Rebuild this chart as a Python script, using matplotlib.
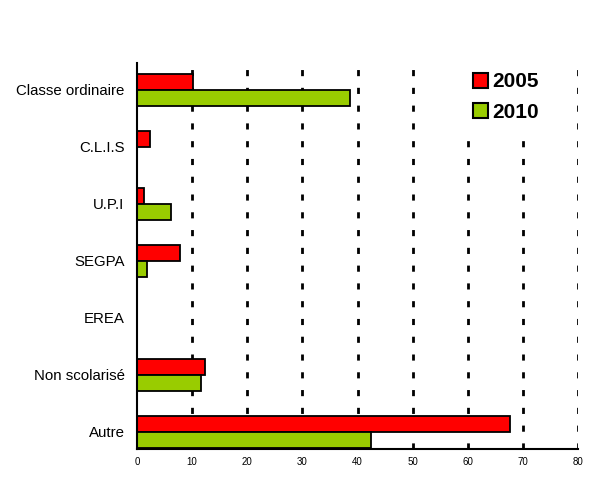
import matplotlib.pyplot as plt
import numpy as np

# categories from top to bottom
categories = ['Classe ordinaire', 'C.L.I.S', 'U.P.I', 'SEGPA', 'EREA',
              'Non scolarisé', 'Autre']
values_2005 = [10.2, 2.4, 1.3, 7.8, 0, 12.3, 67.6]
values_2010 = [38.7, 0, 6.1, 1.9, 0, 11.6, 42.5]
x_ticks = [0, 10, 20, 30, 40, 50, 60, 70, 80]

plt.rcParams['font.family'] = ['Liberation Sans', 'DejaVu Sans']

fig = plt.figure(figsize=(5.95, 4.86), dpi=100)
ax = fig.add_axes([137 / 595, 37 / 486, 441 / 595, 386 / 486])

n = len(categories)
pos = np.arange(n)[::-1]
h = 0.28

ax.barh(pos + h / 2, values_2005, height=h, color='#ff0000',
        edgecolor='black', linewidth=1.3, label='2005', zorder=3)
ax.barh(pos - h / 2, values_2010, height=h, color='#99cc00',
        edgecolor='black', linewidth=1.3, label='2010', zorder=3)

# dotted vertical grid
for x in x_ticks[1:]:
    ax.axvline(x, color='black', linestyle=(0, (2.2, 4.2)), linewidth=2,
               zorder=1)

ax.set_xlim(0, 80)
ax.set_ylim(-0.3, n - 1 + 0.47)
ax.set_yticks(pos)
ax.set_yticklabels(categories, fontsize=10.8)
ax.set_xticks(x_ticks)
ax.set_xticklabels([str(v) for v in x_ticks], fontsize=7)
ax.tick_params(axis='both', length=0)
ax.tick_params(axis='y', pad=9)
ax.tick_params(axis='x', pad=6)

for s in ['top', 'right']:
    ax.spines[s].set_visible(False)
for s in ['left', 'bottom']:
    ax.spines[s].set_linewidth(1.5)
    ax.spines[s].set_zorder(4)

# legend box is white and hides the grid behind it
leg = ax.legend(loc='upper left', bbox_to_anchor=(0.741, 1.0), frameon=True,
                facecolor='white', edgecolor='none', fancybox=False,
                framealpha=1, borderpad=0.45, borderaxespad=0,
                prop={'weight': 'bold', 'size': 15}, handlelength=0.72,
                handleheight=0.72, handletextpad=0.2, labelspacing=0.55)
leg.set_zorder(2)
for hdl in leg.legend_handles:
    hdl.set_linewidth(1.5)

fig.savefig('out.png', dpi=100)
